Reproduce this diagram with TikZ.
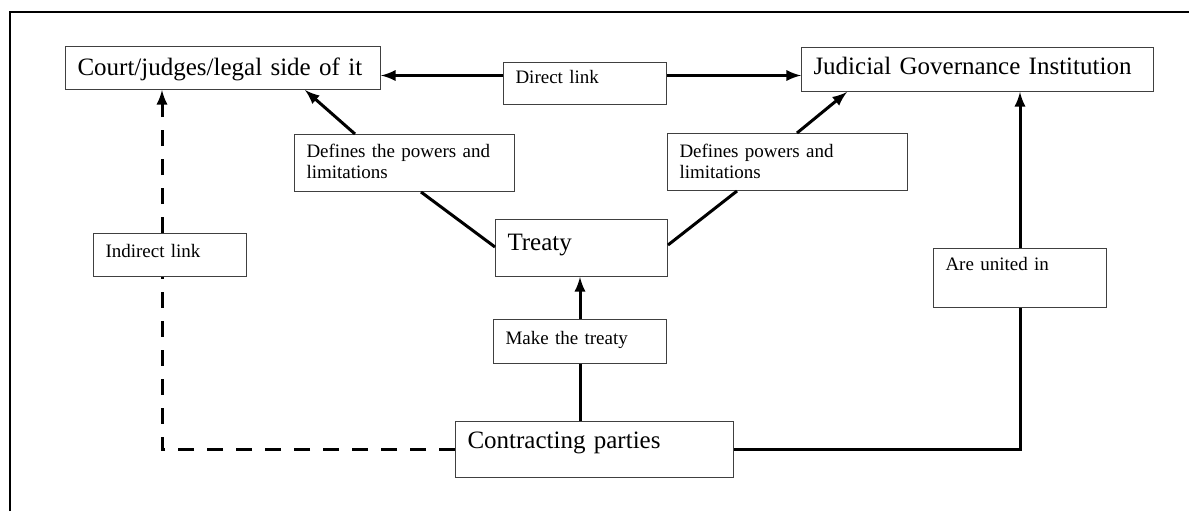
\documentclass[tikz,border=0pt]{standalone}
\usepackage{fontspec}
\setmainfont{Liberation Serif}
\usepackage{tikz}
\tikzset{
  box/.style={draw=black!75, line width=0.5pt, anchor=north west, align=left,
    inner xsep=6pt, inner ysep=0pt
  },
  bigbox/.style={box, font=\fontsize{12.5pt}{14pt}\selectfont},
  smallbox/.style={box, font=\fontsize{9.5pt}{10.5pt}\selectfont},
  link/.style={line width=1.5pt},
  dlink/.style={line width=1.5pt, dash pattern=on 8pt off 6.5pt}
}

\begin{document}
\begin{tikzpicture}[x=0.5pt, y=-0.5pt]
 \useasboundingbox (0,0) rectangle (1189,511);
 \draw[line width=1pt] (10,511) -- (10,12) -- (1189,12);

 \node[bigbox, text width=145.5pt, text height=14.5pt, text depth=7pt] (court) at (65,46) {Court/judges/legal side of it};
 \node[smallbox, text width=69.5pt, text height=10.5pt, text depth=10.5pt] (direct) at (503,62) {Direct link};
 \node[bigbox, text width=164pt, text height=13.5pt, text depth=8.5pt] (jgi) at (801,47) {Judicial Governance Institution};
 \node[smallbox, text width=98pt, text height=11.5pt, text depth=17pt] (defl) at (294,134) {Defines the powers and\\limitations};
 \node[smallbox, text width=108pt, text height=12pt, text depth=16.5pt] (defr) at (667,133) {Defines powers and\\limitations};
 \node[bigbox, text width=74pt, text height=15.5pt, text depth=13pt] (treaty) at (495,219) {Treaty};
 \node[smallbox, text width=74.5pt, text height=12.5pt, text depth=9.5pt] (make) at (493,319) {Make the treaty};
 \node[bigbox, text width=127pt, text height=13.5pt, text depth=14.5pt] (contr) at (455,421) {Contracting parties};
 \node[smallbox, text width=64.5pt, text height=12pt, text depth=9.5pt] (indirect) at (93,233) {Indirect link};
 \node[smallbox, text width=74.5pt, text height=11pt, text depth=18.5pt] (united) at (933,248) {Are united in};

 \draw[link,-latex] ([yshift=4pt]direct.west) -- ([yshift=4pt]direct.west -| court.east);
 \draw[link,-latex] ([yshift=4pt]direct.east) -- ([yshift=4pt]direct.east -| jgi.west);
 \draw[link,-latex] ([xshift=30.5pt]defl.north west) -- ([xshift=120pt]court.south west);
 \draw[link] ([yshift=-14pt]treaty.north west) -- ([xshift=63.5pt]defl.south west);
 \draw[link] ([yshift=-13pt]treaty.north east) -- ([xshift=35pt]defr.south west);
 \draw[link,-latex] ([xshift=65pt]defr.north west) -- ([xshift=23pt]jgi.south west);
 \draw[link,-latex] (make.north) -- (make.north |- treaty.south);
 \draw[link] (make.south |- contr.north) -- (make.south);
 \draw[link] (contr.east) -| (united.south);
 \draw[link,-latex] (united.north) -- (united.north |- jgi.south);
 \draw[dlink] (contr.west) -| ([xshift=-4pt]indirect.south);
 \draw[dlink,-latex] ([xshift=-4pt]indirect.north) -- ([xshift=-4pt]indirect.north |- court.south);
\end{tikzpicture}
\end{document}
